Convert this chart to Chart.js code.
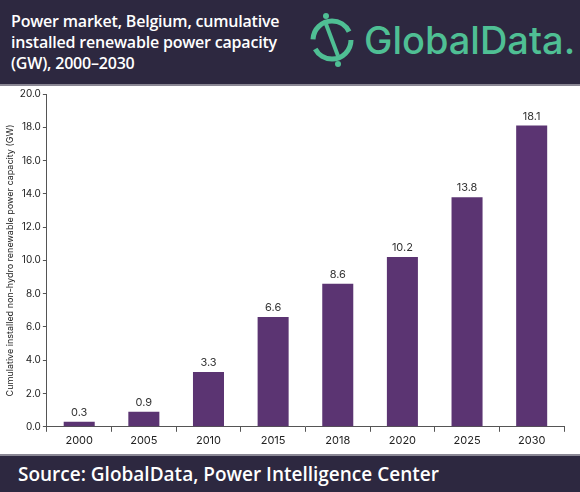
<!DOCTYPE html>
<html><head><meta charset="utf-8">
<script src="https://cdn.jsdelivr.net/npm/chart.js@4"></script>
<style>
body{margin:0;width:580px;height:492px;overflow:hidden;background:#fff;font-family:Inter,"Noto Sans",sans-serif}
#head{position:absolute;left:0;top:0;width:580px;height:86px;background:#2d2840;border-bottom:2px solid #8a8794;box-sizing:border-box}
#title{position:absolute;left:11px;top:11px;color:#fff;font-size:16px;font-weight:600;line-height:21px;font-family:"Open Sans",sans-serif;letter-spacing:-0.2px}
#logo{position:absolute;left:302px;top:10px;width:272px;height:60px}
#wrap{position:absolute;left:0;top:86px;width:580px;height:368px}
#foot{position:absolute;left:0;top:454px;width:580px;height:38px;background:#2d2840;border-top:2px solid #8a8794;box-sizing:border-box;color:#fff;font-size:19px;font-weight:600;padding:5px 0 0 18px;font-family:"Open Sans",sans-serif}
</style></head><body>
<div id="head"><div id="title">Power market, Belgium, cumulative<br>installed renewable power capacity<br>(GW), 2000–2030</div>
<svg id="logo" viewBox="0 0 272 60">
<circle cx="30" cy="30" r="19" fill="none" stroke="#4fbf94" stroke-width="5" stroke-dasharray="50 10 50 10"/>
<path d="M24 14 L36 46" stroke="#4fbf94" stroke-width="4"/>
<circle cx="24" cy="6" r="3" fill="#4fbf94"/><circle cx="36" cy="54" r="3" fill="#4fbf94"/>
<text x="62" y="44" fill="#4fbf94" font-family="Inter,sans-serif" font-size="38" font-weight="500">GlobalData.</text>
</svg></div>
<div id="wrap"><canvas id="c" width="580" height="368" style="width:580px;height:368px"></canvas></div>
<div id="foot">Source: GlobalData, Power Intelligence Center</div>
<script>
const years = ["2000","2005","2010","2015","2018","2020","2025","2030"];
const capacity = [0.3, 0.9, 3.3, 6.6, 8.6, 10.2, 13.8, 18.1];

const labelPlugin = {
  id: "labels",
  afterDatasetsDraw(chart) {
    const ctx = chart.ctx;
    ctx.save();
    ctx.fillStyle = "#333";
    ctx.font = "11px Inter, sans-serif";
    ctx.textAlign = "center";
    chart.getDatasetMeta(0).data.forEach((bar, i) => {
      ctx.fillText(capacity[i].toFixed(1), bar.x, bar.y - 6);
    });
    ctx.restore();
  }
};

new Chart(document.getElementById("c"), {
  type: "bar",
  data: { labels: years, datasets: [{ data: capacity, backgroundColor: "#5b3472", categoryPercentage: 0.48, barPercentage: 1 }] },
  options: {
    responsive: false, animation: false, devicePixelRatio: 1,
    layout: { padding: { top: 4, right: 16, left: 3, bottom: 5 } },
    plugins: { legend: { display: false }, tooltip: { enabled: false } },
    scales: {
      x: {
        grid: { display: true, offset: true, drawOnChartArea: false, color: "#555", tickLength: 5 },
        border: { color: "#555" },
        ticks: { color: "#222", font: { size: 11, family: "Inter" }, padding: 2, maxRotation: 0 }
      },
      y: {
        min: 0, max: 20,
        grid: { drawOnChartArea: false, color: "#555", tickLength: 4 },
        border: { color: "#555" },
        ticks: { stepSize: 2, color: "#222", font: { size: 10, family: "Inter" }, padding: 2, callback: v => v.toFixed(1) },
        title: { display: true, text: "Cumulative installed non-hydro renewable power capacity (GW)", color: "#222", font: { size: 9, family: "Inter" }, padding: 2 }
      }
    }
  },
  plugins: [labelPlugin]
});
</script>
</body></html>
